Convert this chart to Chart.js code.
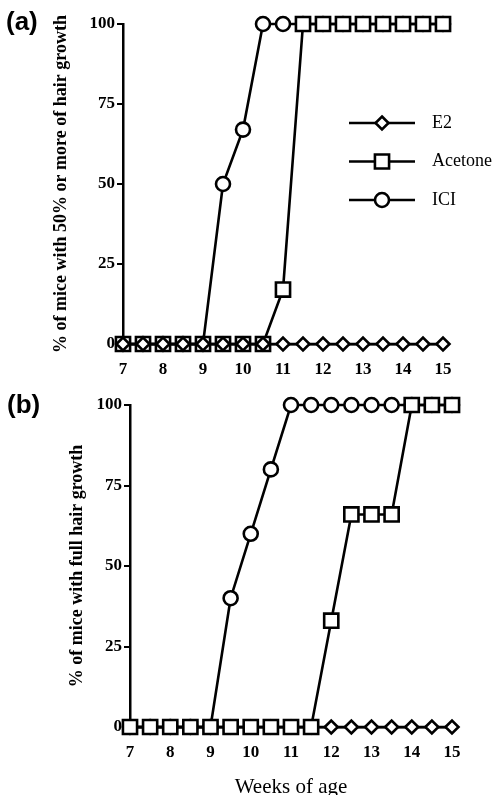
<!DOCTYPE html>
<html>
<head>
<meta charset="utf-8">
<script src="https://cdn.jsdelivr.net/npm/chart.js@4/dist/chart.umd.min.js"></script>
<style>
  body { margin: 0; background: #fff; }
  #wrap { position: relative; width: 496px; height: 795px; overflow: hidden; }
  .panel { position: absolute; left: 0; }
  .tag { position: absolute; font: bold 26px "Liberation Sans", Arial, sans-serif; color: #000; }
</style>
</head>
<body>
<div id="wrap">
  <canvas id="chartA" class="panel" width="496" height="385" style="top:0"></canvas>
  <canvas id="chartB" class="panel" width="496" height="410" style="top:385px"></canvas>
  <div class="tag" style="left:6px;top:6px">(a)</div>
  <div class="tag" style="left:7px;top:389px">(b)</div>
</div>
<script>
const weeks = [7, 7.5, 8, 8.5, 9, 9.5, 10, 10.5, 11, 11.5, 12, 12.5, 13, 13.5, 14, 14.5, 15];

// (a) % of mice with 50% or more of hair growth
const aE2      = [0, 0, 0, 0, 0, 0, 0, 0, 0, 0, 0, 0, 0, 0, 0, 0, 0];
const aAcetone = [0, 0, 0, 0, 0, 0, 0, 0, 17, 100, 100, 100, 100, 100, 100, 100, 100];
const aICI     = [0, 0, 0, 0, 0, 50, 67, 100, 100, 100, 100, 100, 100, 100, 100, 100, 100];

// (b) % of mice with full hair growth
const bE2      = [0, 0, 0, 0, 0, 0, 0, 0, 0, 0, 0, 0, 0, 0, 0, 0, 0];
const bAcetone = [0, 0, 0, 0, 0, 0, 0, 0, 0, 0, 33, 66, 66, 66, 100, 100, 100];
const bICI     = [0, 0, 0, 0, 0, 40, 60, 80, 100, 100, 100, 100, 100, 100, 100, 100, 100];

const yTicks = [0, 25, 50, 75, 100];
const xTicks = [7, 8, 9, 10, 11, 12, 13, 14, 15];

const serif = '"Liberation Serif", "Times New Roman", serif';

function series(label, values, style, radius) {
  return {
    label,
    data: weeks.map((w, i) => ({ x: w, y: values[i] })),
    borderColor: "#000",
    borderWidth: 2.6,
    pointStyle: style,
    pointRadius: radius,
    pointBorderWidth: 2.6,
    pointBackgroundColor: "#fff",
    pointBorderColor: "#000",
    tension: 0,
    clip: false
  };
}

function drawMarker(ctx, style, x, y, r) {
  ctx.beginPath();
  if (style === "circle") {
    ctx.arc(x, y, r, 0, Math.PI * 2);
  } else if (style === "rect") {
    const s = r * Math.SQRT1_2;
    ctx.rect(x - s, y - s, 2 * s, 2 * s);
  } else {
    ctx.moveTo(x, y - r); ctx.lineTo(x + r, y); ctx.lineTo(x, y + r); ctx.lineTo(x - r, y);
    ctx.closePath();
  }
  ctx.fill();
  ctx.stroke();
}

const legendPlugin = {
  id: "lineLegend",
  afterDatasetsDraw(chart) {
    const ctx = chart.ctx;
    const order = ["E2", "Acetone", "ICI"];
    ctx.save();
    order.forEach((name, i) => {
      const ds = chart.data.datasets.find(d => d.label === name);
      const y = 123 + i * 38.5;
      ctx.strokeStyle = "#000";
      ctx.lineWidth = 2.6;
      ctx.beginPath();
      ctx.moveTo(349, y);
      ctx.lineTo(415, y);
      ctx.stroke();
      ctx.fillStyle = "#fff";
      drawMarker(ctx, ds.pointStyle, 382, y, ds.pointRadius);
      ctx.fillStyle = "#000";
      ctx.font = "18px " + serif;
      ctx.textBaseline = "middle";
      ctx.fillText(name, 432, y);
    });
    ctx.restore();
  }
};

function makeOptions(cfg) {
  return {
    responsive: false,
    animation: false,
    layout: { padding: { top: cfg.top, right: cfg.right, left: 0, bottom: 0 } },
    plugins: { legend: { display: false }, tooltip: { enabled: false } },
    scales: {
      x: {
        type: "linear",
        min: 7,
        max: 15,
        afterBuildTicks: (s) => { s.ticks = xTicks.map(v => ({ value: v })); },
        afterFit: (s) => { s.height = cfg.xHeight; },
        border: { display: true, color: "#000", width: 2.5 },
        grid: { display: true, drawOnChartArea: false, color: "#000", lineWidth: 1.5, tickLength: 4 },
        ticks: { color: "#000", padding: 11, maxRotation: 0, font: { family: serif, size: 17, weight: "bold" } },
        title: cfg.xTitle
          ? { display: true, text: cfg.xTitle, color: "#000", padding: { top: 0, bottom: -5 }, font: { family: serif, size: 21 } }
          : { display: false }
      },
      y: {
        min: 0,
        max: 100,
        afterBuildTicks: (s) => { s.ticks = yTicks.map(v => ({ value: v })); },
        afterFit: (s) => { s.width = cfg.yWidth; },
        border: { display: true, color: "#000", width: 2.5 },
        grid: { display: true, drawOnChartArea: false, color: "#000", lineWidth: 2, tickLength: 6 },
        ticks: { color: "#000", padding: 2, font: { family: serif, size: 17, weight: "bold" } },
        title: { display: true, text: cfg.yTitle, color: "#000", padding: { top: cfg.yTitlePad, bottom: 0 }, font: { family: serif, size: 18, weight: "bold" } }
      }
    }
  };
}

new Chart(document.getElementById("chartA"), {
  type: "line",
  data: {
    datasets: [
      series("E2", aE2, "rectRot", 6.5),
      series("Acetone", aAcetone, "rect", 10),
      series("ICI", aICI, "circle", 7)
    ]
  },
  options: makeOptions({
    top: 24, right: 53, xHeight: 41, yWidth: 123, yTitlePad: 51,
    yTitle: "% of mice with 50% or more of hair growth"
  }),
  plugins: [legendPlugin]
});

new Chart(document.getElementById("chartB"), {
  type: "line",
  data: {
    datasets: [
      series("Acetone", bAcetone, "rect", 10),
      series("E2", bE2, "rectRot", 6.5),
      series("ICI", bICI, "circle", 7)
    ]
  },
  options: makeOptions({
    top: 20, right: 44, xHeight: 68, yWidth: 130, yTitlePad: 67,
    yTitle: "% of mice with full hair growth", xTitle: "Weeks of age"
  })
});
</script>
</body>
</html>
